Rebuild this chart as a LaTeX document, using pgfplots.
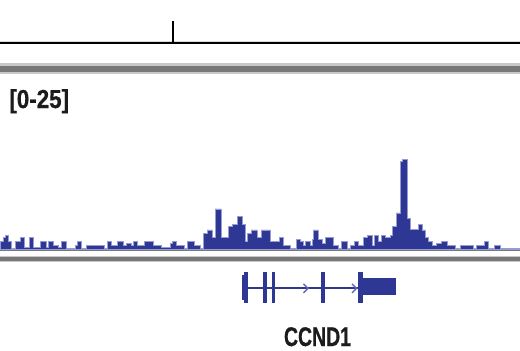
\documentclass[border=0pt]{standalone}
\usepackage{pgfplots}
\pgfplotsset{compat=1.18}
\usepackage{fontspec}
\setmainfont{Liberation Sans}
\newfontfamily\condA[FakeStretch=0.72,FakeBold=0.6]{Liberation Sans}
\newfontfamily\condB[FakeStretch=0.86,FakeBold=0.6]{Liberation Sans}
\definecolor{trackblue}{RGB}{46,56,148}
\definecolor{edgeblue}{RGB}{150,155,210}
\definecolor{bardark}{RGB}{120,120,120}
\definecolor{barlight}{RGB}{200,200,200}
\definecolor{txt}{RGB}{28,28,28}
\begin{document}
\begin{tikzpicture}
\useasboundingbox (0,0) rectangle (260pt,-175pt);
\begin{scope}[x=0.5pt,y=-0.5pt]
  % ruler
  \fill[barlight!70] (0,40.8) rectangle (520,42.3);
  \fill[black] (0,42.3) rectangle (520,44);
  \fill[black] (172.3,20.5) rectangle (174.3,42.3);
  % top gray bar
  \fill[barlight] (0,63.3) rectangle (520,74);
  \fill[bardark] (0,65.7) rectangle (520,71.7);
  % track bottom lines
  \fill[bardark] (0,249) rectangle (520,251);
  \fill[barlight] (0,256) rectangle (520,262);
  \fill[bardark] (0,257.3) rectangle (520,260.7);
  % label
  \node[anchor=base west, inner sep=0, text=txt, font=\condB\bfseries\fontsize{13}{15}\selectfont] at (9,108) {[0-25]};
  % gene
  \draw[trackblue, line width=1pt] (247,288.3) -- (360,288.3);
  \draw[edgeblue!50!trackblue, line width=0.7pt] (303.5,283.8) -- (308,288.3) -- (303.5,292.8);
  \draw[edgeblue!50!trackblue, line width=0.7pt] (352,283.8) -- (356.5,288.3) -- (352,292.8);
  \fill[trackblue] (241.5,275) rectangle (244,300);
  \fill[trackblue] (243.5,272) rectangle (247.5,303);
  \fill[trackblue] (263.2,272) rectangle (266.5,303);
  \fill[trackblue] (271.6,272) rectangle (275,303);
  \fill[trackblue] (320.6,272) rectangle (325,303);
  \fill[trackblue] (358.3,272) rectangle (363,303);
  \fill[trackblue] (362.5,278) rectangle (396.3,294.5);
  \node[anchor=base, inner sep=0, text=txt, font=\condA\bfseries\fontsize{13.5}{15}\selectfont] at (317.5,346) {CCND1};
\end{scope}
\begin{axis}[at={(0pt,-124.5pt)}, anchor=south west, scale only axis,
  width=260pt, height=82pt, xmin=0, xmax=520, ymin=0, ymax=25,
  hide axis, clip=false]
\addplot[const plot, fill=trackblue, draw=edgeblue, line width=0.4pt] coordinates {
(0,1.2) (3,1.7) (5,2.1) (8,1.2) (11,0.15) (15,1.1) (20,1.7) (24,0.3) (29,1.7) (33,0.3)
(40,1.1) (46,0.3) (48,1.1) (53,0.6) (58,0.3) (61,1.1) (66,0.15) (75,0.5) (77,1.1) (81,0.15)
(86,0.5) (104,0.15) (107,1.1) (111,0.5) (117,1.1) (123,0.5) (126,0.8) (131,0.5) (133,1.1) (137,0.5)
(144,1.1) (153,0.5) (161,0.3) (170,0.8) (172,1.1) (176,0.5) (184,0.15) (187,1.1) (194,0.5) (200,0.15)
(203,2.4) (207,2.9) (212,1.7) (215,6.1) (221,1.7) (228,3.5) (232,3.8) (237,5.0) (242,3.8) (245,1.2)
(247,2.4) (251,2.9) (257,1.7) (261,2.9) (270,1.2) (272,1.1) (279,1.8) (283,0.5) (290,0.15) (296,1.5)
(300,1.1) (303,0.5) (305,1.1) (310,0.5) (312,1.5) (313,2.9) (318,1.5) (322,0.9) (325,1.7) (333,0.5)
(338,0.15) (341,1.1) (347,0.15) (350,0.5) (354,1.1) (358,0.5) (363,1.7) (367,2.1) (372,0.5) (374,2.1)
(378,1.1) (381,2.1) (385,1.7) (390,2.1) (392,3.4) (396,5.5) (400,13.3) (402,13.6) (407,4.6) (410,3.0)
(414,3.0) (418,3.8) (422,2.9) (425,1.7) (428,1.1) (432,0.5) (436,0.8) (441,1.1) (447,0.5) (455,0.15)
(460,0.5) (473,0.15) (476,0.5) (484,1.1) (488,0.15) (494,0.5) (500,0.15) (520,0.15)
} \closedcycle;
\end{axis}
\end{tikzpicture}
\end{document}
